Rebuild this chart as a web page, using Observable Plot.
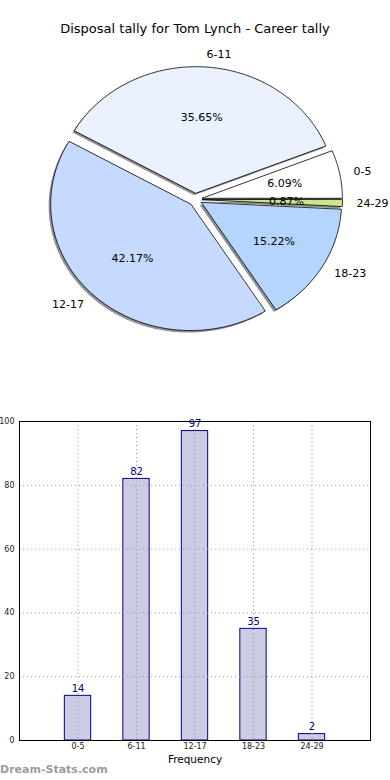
<!DOCTYPE html>
<html><head><meta charset="utf-8">
<script src="https://cdn.jsdelivr.net/npm/d3@7"></script>
<script src="https://cdn.jsdelivr.net/npm/@observablehq/plot@0.6"></script>
<style>
body{margin:0;background:#fff;font-family:"DejaVu Sans",sans-serif;}
#wrap{position:relative;width:390px;height:780px;overflow:hidden;background:#fff;}
.abs{position:absolute;}
</style></head><body>
<div id="wrap">
  <div id="pie" class="abs" style="left:0;top:0"></div>
  <div id="bar" class="abs" style="left:0;top:400px"></div>
  <div id="title" class="abs" style="left:0;top:21px;width:390px;text-align:center;font-size:13px;color:#000;"></div>
  <div id="mark" class="abs" style="left:0;top:763px;font-size:11px;font-weight:bold;color:#9c9c9c;"></div>
</div>
<script>
const titleText = "Disposal tally for Tom Lynch - Career tally";
const watermark = "Dream-Stats.com";
const categories = ["0-5", "6-11", "12-17", "18-23", "24-29"];
const counts = [14, 82, 97, 35, 2];
const sliceColors = ["#ffffff", "#eaf1ff", "#c6d9ff", "#b5d5ff", "#c8e68c"];
const yTicks = [0, 20, 40, 60, 80, 100];
const xLabel = "Frequency";

document.getElementById("title").textContent = titleText;
document.getElementById("mark").textContent = watermark;

// ---- pie geometry (computed from counts) ----
const RX = 140, RY = 126.5, CX = 195, CY = 199, W = 390, H = 400;
const explode = 0.05;
const total = d3.sum(counts);
let acc = 0;
const slices = counts.map((v, i) => {
  const a0 = acc / total * 360;
  acc += v;
  const a1 = acc / total * 360;
  const mid = (a0 + a1) / 2 * Math.PI / 180;
  const ox = explode * Math.cos(mid), oy = explode * Math.sin(mid);
  const pts = [{k: i, x: ox, y: oy}];
  const n = Math.max(2, Math.ceil(a1 - a0));
  for (let j = 0; j <= n; j++) {
    const a = (a0 + (a1 - a0) * j / n) * Math.PI / 180;
    pts.push({k: i, x: ox + Math.cos(a), y: oy + Math.sin(a)});
  }
  return {
    i, cat: categories[i], value: v, color: sliceColors[i], pts,
    lx: ox + 1.1 * Math.cos(mid), ly: oy + 1.1 * Math.sin(mid),
    px: ox + 0.6 * Math.cos(mid), py: oy + 0.6 * Math.sin(mid),
    right: Math.cos(mid) >= 0,
    pct: (v / total * 100).toFixed(2) + "%"
  };
});

const pieMarks = [];
slices.forEach(s => {
  pieMarks.push(Plot.line(s.pts, {x: "x", y: "y", curve: "linear-closed", fill: "#7f7f7f", fillOpacity: 0.85, stroke: "none", dx: -2, dy: 2}));
});
slices.forEach(s => {
  pieMarks.push(Plot.line(s.pts, {x: "x", y: "y", curve: "linear-closed", fill: s.color, stroke: "#000", strokeWidth: 0.8}));
});
pieMarks.push(Plot.text(slices.filter(s => s.right), {x: "lx", y: "ly", text: "cat", textAnchor: "start", fontSize: 11, fill: "#000"}));
pieMarks.push(Plot.text(slices.filter(s => !s.right), {x: "lx", y: "ly", text: "cat", textAnchor: "end", fontSize: 11, fill: "#000"}));
pieMarks.push(Plot.text(slices, {x: "px", y: "py", text: "pct", fontSize: 11, fill: "#000"}));

const pie = Plot.plot({
  width: W, height: H, margin: 0,
  style: {fontFamily: "DejaVu Sans", background: "transparent", overflow: "visible"},
  x: {domain: [-CX / RX, (W - CX) / RX], range: [0, W], axis: null},
  y: {domain: [-(H - CY) / RY, CY / RY], range: [H, 0], axis: null},
  marks: pieMarks
});
document.getElementById("pie").appendChild(pie);

// ---- bar chart ----
const barData = counts.map((v, i) => ({i, cat: categories[i], value: v}));
const grid = {stroke: "#a0a0a0", strokeOpacity: 1, strokeDasharray: "1.2,2.8", strokeWidth: 1};
const bar = Plot.plot({
  width: 390, height: 380,
  marginTop: 21, marginBottom: 40, marginLeft: 19, marginRight: 20,
  style: {fontFamily: "DejaVu Sans", background: "transparent", overflow: "visible"},
  x: {domain: [-1, 5]},
  y: {domain: [0, 100]},
  marks: [
    Plot.rect(barData, {x1: d => d.i - 0.225, x2: d => d.i + 0.225, y1: 0, y2: "value", fill: "#ccccE4", stroke: "#000080", strokeWidth: 1}),
    Plot.gridY(yTicks, grid),
    Plot.gridX(d3.range(categories.length), grid),
    Plot.text(barData, {x: "i", y: "value", text: d => String(d.value), dy: -7, fill: "#000080", fontSize: 10}),
    Plot.frame({stroke: "#000", strokeWidth: 1}),
    Plot.axisY(yTicks, {tickSize: 0, tickPadding: 5, fontSize: 8, label: null, fill: "#222"}),
    Plot.axisX(d3.range(categories.length), {tickSize: 0, tickPadding: 3, fontSize: 8, tickFormat: i => categories[i], label: null, fill: "#222"}),
    Plot.text([xLabel], {frameAnchor: "bottom", dy: 22, fontSize: 10.5, fill: "#000"})
  ]
});
document.getElementById("bar").appendChild(bar);
</script>
</body></html>
